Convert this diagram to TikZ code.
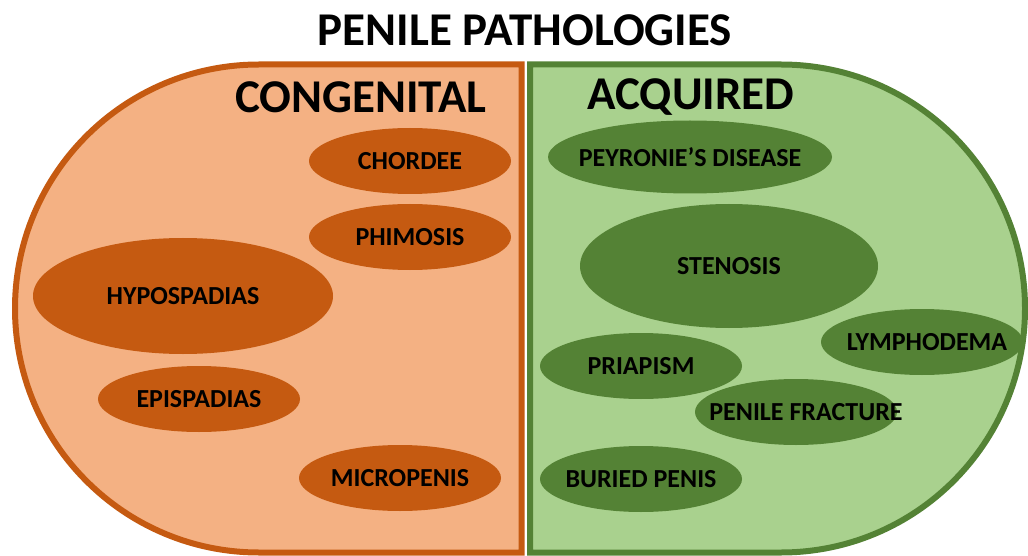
\documentclass[tikz,border=0pt]{standalone}
\usepackage{fontspec}
\setmainfont{Carlito}
\usetikzlibrary{shapes.geometric}
\definecolor{rust} {HTML}{C55A11}
\definecolor{peach}{HTML}{F4B183}
\definecolor{moss} {HTML}{548235}
\definecolor{leaf} {HTML}{A9D18E}
\tikzset{
  % --- panels
  panel/.style = {line width=6pt, line join=miter},
  cong/.style  = {panel, draw=rust, fill=peach},
  acq/.style   = {panel, draw=moss, fill=leaf},
  % --- headings
  head/.style  = {font=\fontsize{47}{47}\selectfont\bfseries, inner sep=0pt},
  % --- ellipses
  blob/.style  = {ellipse, inner sep=0pt, minimum width=202pt, minimum height=66pt},
  cblob/.style = {blob, fill=rust},
  ablob/.style = {blob, fill=moss},
  every label/.style = {font=\fontsize{26}{26}\selectfont\bfseries, text=black, inner sep=0pt},
}
\begin{document}
\begin{tikzpicture}[x=1pt,y=1pt]
  \useasboundingbox (0,0) rectangle (1028,-556);
  \clip (0,0) rectangle (1028,-556);
  \node[head] (title) at (525,-30) {PENILE PATHOLOGIES};

  % two halves
  \draw[cong] (521.5,-64.5) -- (259,-64.5) arc[start angle=90, end angle=270, radius=244pt]
              -- (521.5,-552.5) -- cycle;
  \draw[acq]  (530,-64.5) -- (781,-64.5) arc[start angle=90, end angle=-90, radius=244pt]
              -- (530,-552.5) -- cycle;
  \node[head] (congenital) at (361,-97) {CONGENITAL};
  \node[head] (acquired)   at (691,-97) {ACQUIRED};

  % congenital
  \node[cblob, label=center:CHORDEE]    (chordee) at (410,-161) {};
  \node[cblob, label=center:PHIMOSIS]   (phimosis) at (410,-237) {};
  \node[cblob, minimum width=300pt, minimum height=116pt,
        label=center:HYPOSPADIAS]       (hypo) at (183,-296) {};
  \node[cblob, label=center:EPISPADIAS] (epi) at (199,-399) {};
  \node[cblob, label=center:MICROPENIS] (micro) at (400,-478) {};

  % acquired
  \node[ablob, minimum width=284pt, minimum height=73pt,
        label={center:PEYRONIE’S DISEASE}] (peyronie) at (690,-157) {};
  \node[ablob, minimum width=298pt, minimum height=124pt,
        label=center:STENOSIS]          (stenosis) at (729,-266) {};
  \node[ablob, label={[xshift=5pt]center:LYMPHODEMA}] (lymph) at (922,-342) {};
  \node[ablob, label=center:PRIAPISM]   (priapism) at (641,-366) {};
  \node[ablob, label={[xshift=10pt]center:PENILE FRACTURE}] (fracture) at (796,-412) {};
  \node[ablob, label=center:BURIED PENIS] (buried) at (641,-479) {};
\end{tikzpicture}
\end{document}
